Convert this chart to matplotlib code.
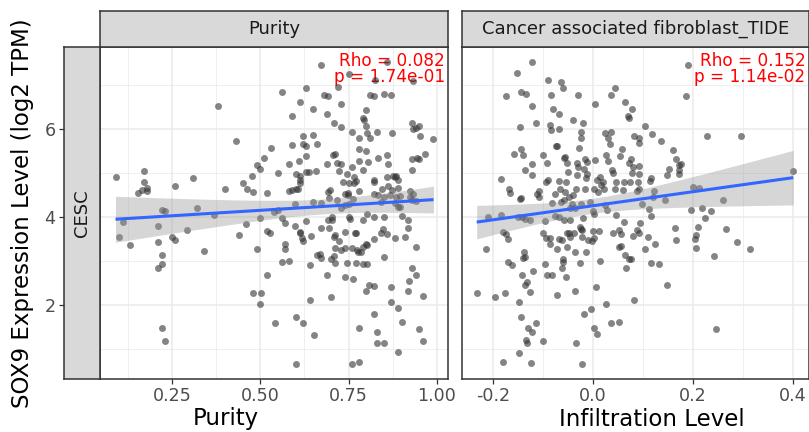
import numpy as np
import matplotlib
matplotlib.use("Agg")
import matplotlib.pyplot as plt
from matplotlib.ticker import FixedLocator, NullFormatter

# ---------------- data ----------------
cancer_type = "CESC"
panel_titles = ["Purity", "Cancer associated fibroblast_TIDE"]
x_titles = ["Purity", "Infiltration Level"]
y_title = "SOX9 Expression Level (log2 TPM)"
rho_labels = ["Rho = 0.082", "Rho = 0.152"]
p_labels = ["p = 1.74e-01", "p = 1.14e-02"]

purity_ticks = [0.25, 0.50, 0.75, 1.00]
purity_ticklabels = ["0.25", "0.50", "0.75", "1.00"]
caf_ticks = [-0.2, 0.0, 0.2, 0.4]
caf_ticklabels = ["-0.2", "0.0", "0.2", "0.4"]
y_ticks = [2, 4, 6]
y_ticklabels = ["2", "4", "6"]

# (purity, SOX9 log2 TPM)
purity_points = [
    (0.671, 7.46), (0.859, 7.54), (0.750, 7.26), (0.826, 7.12), (0.932, 7.09),
    (0.561, 6.84), (0.630, 6.93), (0.679, 6.77), (0.692, 6.75), (0.721, 6.95),
    (0.810, 6.77), (0.821, 6.76), (0.851, 6.79), (0.871, 6.78),
    (0.380, 6.52), (0.611, 6.61), (0.730, 6.58), (0.650, 6.46), (0.800, 6.44),
    (0.591, 6.30), (0.690, 6.34), (0.790, 6.25), (0.793, 6.21),
    (0.710, 6.14), (0.730, 6.06), (0.800, 6.08), (0.931, 6.15), (0.949, 6.08),
    (0.831, 5.94), (0.761, 5.94), (0.803, 5.91), (0.872, 5.91), (0.934, 6.00),
    (0.941, 6.02), (0.952, 5.85), (0.991, 5.77), (0.780, 5.81), (0.811, 5.80),
    (0.430, 5.73), (0.620, 5.85), (0.650, 5.86), (0.591, 5.64), (0.620, 5.67),
    (0.630, 5.61), (0.660, 5.67), (0.530, 5.57), (0.779, 5.55), (0.800, 5.51),
    (0.509, 5.35), (0.630, 5.38), (0.707, 5.41), (0.711, 5.43), (0.833, 5.34),
    (0.860, 5.42), (0.945, 5.35), (0.968, 5.43), (0.949, 5.33), (0.931, 5.32),
    (0.610, 5.28), (0.580, 5.22), (0.658, 5.04), (0.689, 5.20), (0.718, 5.23),
    (0.728, 5.20), (0.759, 5.13), (0.780, 5.27), (0.805, 5.25), (0.861, 5.20),
    (0.931, 5.07),
    (0.490, 5.18), (0.499, 5.09), (0.550, 5.00), (0.600, 4.98), (0.613, 4.94),
    (0.629, 5.02), (0.639, 5.03), (0.723, 5.06), (0.745, 4.98), (0.791, 5.07),
    (0.089, 4.91), (0.169, 5.06), (0.310, 4.88), (0.259, 4.72), (0.169, 4.80),
    (0.153, 4.54), (0.163, 4.61), (0.177, 4.59), (0.179, 4.66),
    (0.477, 4.94), (0.766, 4.92), (0.859, 4.92), (0.876, 4.94), (0.885, 4.94),
    (0.890, 4.84), (0.611, 4.84), (0.613, 4.78), (0.450, 4.77), (0.461, 4.63),
    (0.480, 4.58), (0.399, 4.64), (0.518, 4.54), (0.580, 4.60), (0.589, 4.61),
    (0.606, 4.64), (0.600, 4.63), (0.751, 4.77), (0.766, 4.78), (0.734, 4.80),
    (0.772, 4.83), (0.821, 4.81), (0.821, 4.84), (0.862, 4.71), (0.883, 4.91),
    (0.693, 4.57), (0.698, 4.62), (0.739, 4.52), (0.748, 4.56), (0.781, 4.59),
    (0.844, 4.64), (0.872, 4.62), (0.891, 4.67), (0.923, 4.60), (0.932, 4.52),
    (0.696, 4.43), (0.717, 4.39), (0.749, 4.50), (0.762, 4.42), (0.823, 4.53),
    (0.834, 4.50), (0.851, 4.47), (0.868, 4.50), (0.885, 4.47), (0.897, 4.49),
    (0.925, 4.45), (0.942, 4.37),
    (0.599, 4.31), (0.648, 4.34), (0.673, 4.32), (0.729, 4.21), (0.741, 4.28),
    (0.751, 4.30), (0.842, 4.35), (0.883, 4.32), (0.897, 4.24), (0.930, 4.39),
    (0.222, 4.16), (0.230, 4.14), (0.320, 4.21), (0.369, 4.05), (0.539, 4.11),
    (0.549, 4.16), (0.561, 3.97), (0.571, 3.87), (0.499, 3.97),
    (0.704, 4.01), (0.691, 3.94), (0.702, 3.94), (0.750, 4.01), (0.754, 3.96),
    (0.791, 3.94), (0.802, 4.07), (0.822, 4.01), (0.850, 4.01), (0.889, 4.24),
    (0.902, 4.03), (0.920, 3.94),
    (0.110, 3.90), (0.098, 3.55), (0.129, 3.37), (0.210, 3.80), (0.291, 3.71),
    (0.209, 3.43), (0.220, 3.15), (0.220, 2.93), (0.209, 2.84), (0.248, 3.54),
    (0.259, 3.47), (0.339, 3.23), (0.459, 3.84),
    (0.598, 3.80), (0.613, 3.67), (0.611, 3.63), (0.630, 3.91), (0.617, 3.53),
    (0.621, 3.46), (0.643, 3.57), (0.671, 3.75), (0.695, 3.75), (0.712, 3.59),
    (0.710, 3.56), (0.722, 3.46), (0.741, 3.67), (0.768, 3.65), (0.771, 3.63),
    (0.800, 3.39), (0.821, 3.50), (0.841, 3.65), (0.849, 3.72), (0.859, 3.61),
    (0.883, 3.52), (0.911, 3.54), (0.920, 3.76),
    (0.438, 3.59), (0.519, 3.69), (0.528, 3.63), (0.569, 3.40), (0.570, 3.27),
    (0.490, 3.27),
    (0.670, 3.16), (0.660, 3.14), (0.671, 3.08), (0.712, 3.29), (0.710, 3.12),
    (0.730, 3.25), (0.741, 3.29), (0.759, 3.29), (0.774, 3.25), (0.790, 3.33),
    (0.802, 3.37), (0.777, 3.20), (0.785, 3.21), (0.940, 3.33),
    (0.580, 3.01), (0.562, 2.97), (0.640, 2.92), (0.701, 3.04), (0.711, 2.96),
    (0.745, 2.96), (0.770, 2.96), (0.791, 2.93), (0.802, 2.93), (0.851, 3.09),
    (0.518, 2.68), (0.690, 2.68), (0.741, 2.63), (0.762, 2.59), (0.930, 2.85),
    (0.940, 2.68), (0.921, 2.54),
    (0.479, 2.28), (0.501, 2.28), (0.500, 2.02), (0.701, 2.19), (0.640, 2.11),
    (0.809, 2.46), (0.821, 2.44), (0.800, 2.32), (0.871, 2.42), (0.920, 2.33),
    (0.961, 2.21), (0.871, 2.07),
    (0.220, 1.48), (0.228, 1.19), (0.541, 1.60), (0.600, 1.73), (0.620, 1.60),
    (0.651, 1.33), (0.781, 1.47), (0.821, 1.80), (0.831, 1.39), (0.830, 1.15),
    (0.852, 1.15), (0.891, 1.94), (0.902, 1.62), (0.951, 1.45), (0.961, 1.19),
    (0.890, 0.94),
    (0.600, 0.67), (0.760, 0.66), (0.780, 0.71),
]

# (CAF TIDE infiltration level, SOX9 log2 TPM)
caf_points = [
    (-0.122, 7.53), (-0.152, 7.27), (-0.090, 7.11), (-0.065, 7.08), (-0.061, 6.93),
    (-0.175, 6.75), (-0.145, 6.84), (-0.134, 6.80), (-0.084, 6.78), (-0.030, 6.77),
    (0.004, 6.58), (0.036, 6.77), (0.044, 6.94), (-0.122, 6.52), (-0.080, 6.45),
    (-0.069, 6.35), (-0.114, 6.15), (-0.041, 6.21), (-0.020, 6.14), (-0.146, 6.05),
    (-0.086, 6.09), (-0.085, 5.98), (-0.069, 6.01), (0.064, 6.61), (0.078, 6.46),
    (0.069, 6.30), (0.071, 6.26), (0.190, 7.46), (0.186, 6.75), (0.104, 6.08),
    (0.118, 5.89), (0.136, 5.73), (0.081, 5.84), (0.092, 5.79), (0.092, 5.68),
    (0.227, 5.85), (0.296, 5.85),
    (-0.025, 5.93), (-0.024, 5.81), (0.023, 5.92), (0.035, 5.94), (0.029, 5.80),
    (0.033, 5.67), (-0.145, 5.54), (-0.141, 5.41), (-0.158, 5.43), (-0.100, 5.42),
    (-0.072, 5.63), (-0.074, 5.61), (-0.029, 5.57), (0.057, 5.55), (0.159, 5.52),
    (0.053, 5.38), (0.025, 5.42), (0.076, 5.32), (0.166, 5.32), (0.176, 5.20),
    (0.172, 5.18),
    (-0.059, 5.35), (-0.057, 5.36), (-0.053, 5.23), (-0.092, 5.23), (-0.122, 5.22),
    (-0.016, 5.32), (0.003, 5.29), (-0.012, 5.26), (-0.033, 5.24), (-0.031, 5.13),
    (-0.019, 5.09), (-0.033, 4.96), (-0.051, 5.02), (-0.013, 4.98), (0.029, 5.27),
    (0.038, 5.08), (0.040, 5.01), (0.071, 5.23), (0.080, 5.15), (0.092, 5.16),
    (0.092, 4.98), (0.077, 5.00), (0.115, 4.89), (0.114, 4.82), (0.152, 5.10),
    (0.171, 5.08), (0.171, 4.98), (0.148, 4.95),
    (-0.136, 5.07), (-0.122, 4.95), (-0.185, 4.86), (-0.168, 4.64), (-0.166, 4.54),
    (-0.144, 4.44), (-0.147, 4.41), (-0.108, 4.59), (-0.113, 4.53), (-0.108, 4.47),
    (-0.095, 4.79), (-0.090, 4.85), (-0.069, 4.83), (-0.067, 4.65), (-0.055, 4.80),
    (-0.057, 4.57), (-0.076, 4.53), (-0.082, 4.32), (-0.065, 4.34), (-0.059, 4.38),
    (-0.048, 4.47), (-0.041, 4.50), (-0.034, 4.65), (-0.017, 4.63), (-0.014, 4.90),
    (0.007, 4.85), (0.014, 4.91), (0.020, 4.81), (0.016, 4.73), (0.002, 4.64),
    (0.009, 4.58), (0.021, 4.63), (0.046, 4.79), (0.062, 4.81), (0.073, 4.79),
    (0.090, 4.81), (0.043, 4.64), (0.059, 4.62), (0.088, 4.59), (0.092, 4.63),
    (0.122, 4.59), (0.120, 4.46), (0.144, 4.38), (0.097, 4.31), (0.200, 4.68),
    (0.212, 4.67), (0.260, 4.38),
    (-0.043, 4.31), (-0.047, 4.20), (-0.036, 4.20), (-0.025, 4.29), (-0.006, 4.34),
    (-0.001, 4.14), (0.001, 4.08), (0.023, 4.28), (0.027, 4.16), (0.045, 4.05),
    (0.061, 3.90), (0.094, 3.87), (0.112, 4.18), (0.116, 4.03), (0.195, 4.17),
    (0.218, 4.20), (0.235, 4.14), (0.224, 3.98),
    (-0.211, 4.00), (-0.184, 4.05), (-0.181, 3.66), (-0.174, 3.61), (-0.170, 3.51),
    (-0.150, 4.01), (-0.136, 3.95), (-0.126, 3.94), (-0.142, 4.00), (-0.097, 3.91),
    (-0.100, 3.65), (-0.094, 3.53), (-0.086, 3.53), (-0.068, 3.50), (-0.076, 4.03),
    (-0.069, 4.00), (-0.058, 3.94), (-0.046, 3.94), (-0.038, 3.63), (-0.053, 3.63),
    (-0.048, 3.65), (-0.046, 3.56), (-0.027, 3.78), (-0.020, 3.98), (-0.025, 3.74),
    (-0.022, 3.71), (0.000, 3.68), (0.012, 3.68), (0.001, 3.52), (-0.023, 3.56),
    (-0.010, 3.48), (-0.003, 3.45), (0.039, 3.63), (0.051, 3.71), (0.056, 3.61),
    (0.080, 3.57), (0.091, 3.63), (0.088, 3.71), (0.110, 3.56), (0.164, 3.75),
    (0.166, 3.47), (0.205, 3.59), (0.204, 3.50), (0.210, 3.78), (0.266, 3.73),
    (0.288, 3.43),
    (-0.214, 3.28), (-0.138, 3.21), (-0.136, 3.09), (-0.141, 3.07), (-0.170, 2.97),
    (-0.163, 2.91), (-0.086, 3.39), (-0.072, 3.28), (-0.063, 3.48), (-0.053, 3.32),
    (-0.036, 3.21), (-0.015, 3.21), (-0.027, 2.96), (0.013, 3.00), (0.055, 3.35),
    (0.052, 3.33), (0.064, 3.15), (0.072, 3.05), (0.075, 3.04), (0.103, 3.27),
    (0.123, 3.38), (0.205, 3.29), (0.241, 3.12), (0.314, 3.27),
    (-0.096, 2.93), (-0.061, 3.06), (-0.061, 2.98), (-0.063, 2.84), (-0.082, 2.68),
    (-0.093, 2.68), (-0.055, 2.63), (-0.121, 2.77), (-0.142, 2.68), (-0.133, 2.52),
    (-0.136, 2.46), (-0.126, 2.30), (-0.177, 2.28), (-0.197, 2.18), (-0.233, 2.28),
    (-0.148, 2.08), (-0.072, 2.22), (-0.036, 2.32), (0.006, 2.42), (0.066, 2.84),
    (0.082, 2.12), (0.116, 2.95), (0.131, 2.93), (0.147, 2.46),
    (-0.144, 1.73), (-0.114, 1.60), (-0.130, 1.47), (-0.123, 1.38), (-0.134, 1.20),
    (-0.132, 1.14), (-0.148, 0.92), (-0.180, 0.70), (-0.124, 0.68), (-0.100, 1.19),
    (-0.034, 1.15), (-0.023, 0.65), (-0.019, 1.80), (-0.005, 1.92), (0.026, 2.02),
    (0.036, 1.60), (0.051, 1.61), (0.002, 1.47), (0.007, 1.34), (0.245, 1.45),
    (0.400, 5.06),
]

# ---------------- layout ----------------
W, H = 809, 432
fig = plt.figure(figsize=(W / 100, H / 100), dpi=100)


def fx(px):
    return px / W


def fy(py):
    return 1 - py / H


PANEL_TOP, PANEL_BOT = 47, 379
STRIP_TOP = 11
panels_px = [(100, 448.3), (461.7, 808.7)]
xlims = [(0.045, 1.033), (-0.263, 0.431)]
YLIM = (0.32, 7.87)

BORDER = "#333333"
STRIP_FILL = "#D9D9D9"
GRID = "#EBEBEB"
TICK_TXT = "#4D4D4D"


def lm_band(x, y, n_grid=100):
    x = np.asarray(x, float)
    y = np.asarray(y, float)
    n = len(x)
    b1, b0 = np.polyfit(x, y, 1)
    resid = y - (b0 + b1 * x)
    s = np.sqrt(np.sum(resid ** 2) / (n - 2))
    xg = np.linspace(x.min(), x.max(), n_grid)
    se = s * np.sqrt(1 / n + (xg - x.mean()) ** 2 / np.sum((x - x.mean()) ** 2))
    yg = b0 + b1 * xg
    t = 1.968
    return xg, yg, yg - t * se, yg + t * se


datasets = [purity_points, caf_points]
xticks = [purity_ticks, caf_ticks]
xticklabels = [purity_ticklabels, caf_ticklabels]
xminors = [[0.125, 0.375, 0.625, 0.875], [-0.1, 0.1, 0.3]]
xtitle_centers = [226, 652]

for i in range(2):
    l, r = panels_px[i]
    ax = fig.add_axes([fx(l), fy(PANEL_BOT), fx(r - l), (PANEL_BOT - PANEL_TOP) / H])
    ax.set_xlim(*xlims[i])
    ax.set_ylim(*YLIM)
    ax.set_facecolor("white")

    ax.set_xticks(xticks[i])
    ax.set_xticklabels(xticklabels[i])
    ax.xaxis.set_minor_locator(FixedLocator(xminors[i]))
    ax.set_yticks(y_ticks)
    ax.yaxis.set_minor_locator(FixedLocator([1, 3, 5, 7]))
    ax.yaxis.set_major_formatter(NullFormatter())
    ax.grid(which="major", color=GRID, lw=1.1)
    ax.grid(which="minor", color=GRID, lw=0.55)
    ax.set_axisbelow(True)
    ax.tick_params(axis="x", which="major", length=3.6, width=0.9, color=BORDER,
                   labelcolor=TICK_TXT, labelsize=12.6, pad=2.5)
    ax.tick_params(axis="y", which="major", length=0, labelleft=False)
    ax.tick_params(which="minor", length=0)
    for sp in ax.spines.values():
        sp.set_color(BORDER)
        sp.set_linewidth(1.1)
        sp.set_zorder(10)

    pts = np.array(datasets[i])
    xs, ys = pts[:, 0], pts[:, 1]

    # correlation labels (drawn under the points)
    ax.text(0.991, 0.944, rho_labels[i], transform=ax.transAxes, ha="right",
            va="baseline", color="red", fontsize=12.2, zorder=1.5)
    ax.text(0.991, 0.895, p_labels[i], transform=ax.transAxes, ha="right",
            va="baseline", color="red", fontsize=12.2, zorder=1.5)

    ax.scatter(xs, ys, s=25, color="#333333", alpha=0.6, linewidths=0, zorder=2)

    xg, yg, lo, hi = lm_band(xs, ys)
    ax.fill_between(xg, lo, hi, color="#999999", alpha=0.4, linewidth=0, zorder=2.5)
    ax.plot(xg, yg, color="#3366FF", lw=2.2, zorder=3, solid_capstyle="butt")

    # top strip
    sax = fig.add_axes([fx(l), fy(PANEL_TOP), fx(r - l), (PANEL_TOP - STRIP_TOP) / H])
    sax.set_facecolor(STRIP_FILL)
    sax.set_xticks([])
    sax.set_yticks([])
    for sp in sax.spines.values():
        sp.set_color(BORDER)
        sp.set_linewidth(1.1)
    sax.text(0.5, 0.5, panel_titles[i], transform=sax.transAxes, ha="center",
             va="center", fontsize=13, color="#1A1A1A")

    # x-axis title (kept just inside the bottom edge)
    fig.text(fx(xtitle_centers[i]), fy(425.5), x_titles[i], ha="center",
             va="baseline", fontsize=16.5, color="black")

# left strip with the y axis
yax = fig.add_axes([fx(64), fy(PANEL_BOT), fx(36), (PANEL_BOT - PANEL_TOP) / H])
yax.set_facecolor(STRIP_FILL)
yax.set_ylim(*YLIM)
yax.set_xticks([])
yax.set_yticks(y_ticks)
yax.set_yticklabels(y_ticklabels)
yax.tick_params(axis="y", length=3.6, width=0.9, color=BORDER, labelcolor=TICK_TXT,
                labelsize=12.6, pad=2.5)
for sp in yax.spines.values():
    sp.set_color(BORDER)
    sp.set_linewidth(1.1)
yax.text(0.5, 0.5, cancer_type, transform=yax.transAxes, rotation=90, ha="center",
         va="center", fontsize=13, color="#1A1A1A")

fig.text(fx(23), fy(213), y_title, rotation=90, ha="center", va="center",
         fontsize=16.5, color="black")

fig.savefig("out.png", dpi=100)
